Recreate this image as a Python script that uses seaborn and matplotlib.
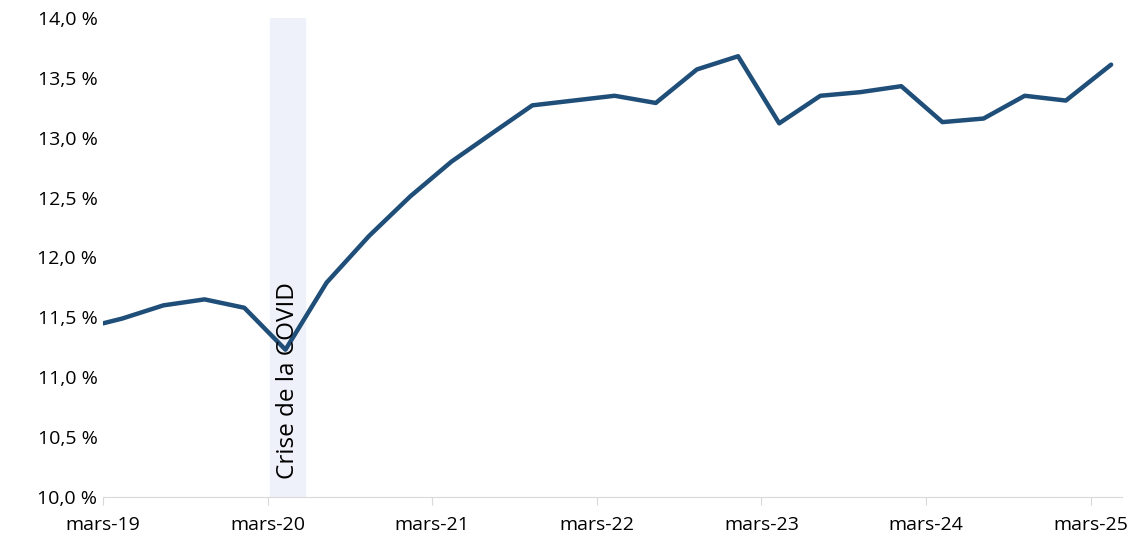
import matplotlib
matplotlib.use("Agg")
import matplotlib.pyplot as plt
import seaborn as sns
import pandas as pd

months = [0, 1.4, 4.4, 7.4, 10.3, 13.3, 16.3, 19.4, 22.4, 25.4, 28.4, 31.3, 34.3, 37.3, 40.3,
          43.3, 46.3, 49.3, 52.3, 55.2, 58.2, 61.2, 64.2, 67.2, 70.2, 73.5]
values = [11.45, 11.49, 11.60, 11.65, 11.58, 11.23, 11.79, 12.18, 12.51, 12.80, 13.04, 13.27,
          13.31, 13.35, 13.29, 13.57, 13.68, 13.12, 13.35, 13.38, 13.43, 13.13, 13.16, 13.35,
          13.31, 13.61]
tick_labels = ["mars-19", "mars-20", "mars-21", "mars-22", "mars-23", "mars-24", "mars-25"]
covid_band = (12.2, 14.7)
covid_label = "Crise de la COVID"

sns.set_style("white")
plt.rcParams['font.family'] = ['Open Sans', 'DejaVu Sans']
plt.rcParams['text.color'] = 'black'
plt.rcParams['xtick.color'] = 'black'
plt.rcParams['ytick.color'] = 'black'
fig = plt.figure(figsize=(11.45, 5.6), dpi=100)
ax = fig.add_axes([0.09, 0.1125, 0.89, 0.8555])
ax.axvspan(*covid_band, color="#eef1f9", zorder=0)
df = pd.DataFrame({"m": months, "v": values})
sns.lineplot(data=df, x="m", y="v", ax=ax, color="#1f4e79", linewidth=3.2)
ax.text((covid_band[0] + covid_band[1]) / 2, 10.15, covid_label, rotation=90,
        ha="center", va="bottom", fontsize=17.5)
ax.set_xlim(0, 74.3)
ax.set_ylim(10, 14)
ax.set_yticks([10 + 0.5 * i for i in range(9)])
ax.set_yticklabels([f"{10 + 0.5 * i:.1f} %".replace(".", ",") for i in range(9)], fontsize=14)
ax.set_xticks([12 * i for i in range(7)])
ax.set_xticklabels(tick_labels, fontsize=14)
ax.set_xlabel("")
ax.set_ylabel("")
for s in ["top", "right", "left"]:
    ax.spines[s].set_visible(False)
ax.spines["bottom"].set_color("#d9d9d9")
ax.tick_params(axis="x", length=6, color="#d9d9d9", labelcolor="black", direction="out", bottom=True, pad=8)
ax.tick_params(axis="y", length=0, pad=4, labelcolor="black")
fig.savefig("out.png", dpi=100)
